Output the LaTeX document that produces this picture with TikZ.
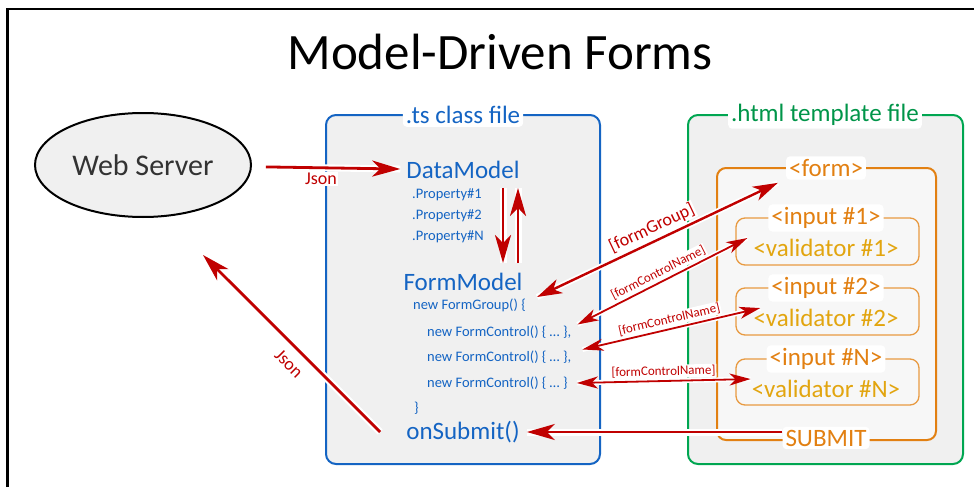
\documentclass[tikz,border=0pt]{standalone}
\usepackage{fontspec}
\setmainfont{Carlito}
\usetikzlibrary{arrows.meta,shapes.geometric}
\definecolor{tsblue}{RGB}{20,100,195}
\definecolor{htmlgreen}{RGB}{0,166,81}
\definecolor{formorange}{RGB}{226,128,18}
\definecolor{valgold}{RGB}{226,165,15}
\definecolor{flowred}{RGB}{192,0,0}
\definecolor{boxgray}{RGB}{240,240,240}
\definecolor{formgray}{RGB}{247,247,247}
\begin{document}
\begin{tikzpicture}[x=1pt,y=-1pt,every node/.style={font=\fontsize{25}{28}\selectfont,inner sep=1pt},
    small/.style={font=\fontsize{14.5}{16}\selectfont,text=tsblue,anchor=west},
    tag/.style={fill=white,rounded corners=4pt,inner sep=3pt},
    lbl/.style={text=flowred,fill=white,inner sep=1pt,font=\fontsize{13}{15}\selectfont},
    flow/.style={flowred,line width=2.8pt,-{Stealth[length=28pt,width=16pt,inset=8pt]},
        preaction={draw=white,line width=7pt,arrows=-}},
    dflow/.style={flowred,line width=2.4pt,
        {Stealth[length=25pt,width=15pt,inset=7pt]}-{Stealth[length=25pt,width=15pt,inset=7pt]},
        preaction={draw=white,line width=6pt,arrows=-}},
    cflow/.style={flowred,line width=1.8pt,
        {Stealth[length=21pt,width=12pt,inset=6pt]}-{Stealth[length=21pt,width=12pt,inset=6pt]},
        preaction={draw=white,line width=5pt,arrows=-}}]
    \useasboundingbox (0,0) rectangle (974,487);
    \draw[line width=2.5pt] (7.5,487) -- (7.5,9) -- (974,9);
    \node (title) at (500,52) {\fontsize{51}{60}\selectfont Model-Driven Forms};
    \node[ellipse,draw,line width=2pt,fill=boxgray,minimum width=216pt,minimum height=104pt,
        text=black!80,font=\fontsize{30}{36}\selectfont] (web) at (143,165) {Web Server};
    % the two files
    \draw[tsblue,line width=2pt,fill=boxgray,rounded corners=10pt] (326,115) rectangle (600,464);
    \node[tag,text=tsblue] (tsfile) at (463,115) {.ts class file};
    \draw[htmlgreen,line width=2pt,fill=boxgray,rounded corners=10pt] (688,115) rectangle (963,464);
    \node[tag,text=htmlgreen!90!black] (htmlfile) at (825,115) {.html template file};
    \draw[formorange,line width=2pt,fill=formgray,rounded corners=9pt] (717,168) rectangle (936,440);
    \node[tag,text=formorange] (form) at (826,168) {<form>};
    \foreach \t/\b/\k in {218/265/1,288/335/2,359/405/N} {
        \draw[formorange!80,line width=1.3pt,rounded corners=9pt] (736,\t) rectangle (919,\b);
        \node[tag,text=formorange] (in\k) at (826,\t) {<input \#\k>};
        \node[text=valgold] (val\k) at (826,\t+30) {<validator \#\k>};
    }
    \node[tag,text=formorange] (submit) at (826,438) {SUBMIT};
    % contents of the class
    \node[text=tsblue] (data) at (463,170) {DataModel};
    \foreach \y/\k in {195/1,216/2,237/N}
        \node[small] (prop\k) at (411,\y) {.Property\#\k};
    \node[text=tsblue] (formmodel) at (463,282) {FormModel};
    \node[small] (fgroup) at (412,305) {new FormGroup() \{};
    \node[small] (fc1) at (426,332) {new FormControl() \{ \dots\ \},};
    \node[small] (fc2) at (426,357) {new FormControl() \{ \dots\ \},};
    \node[small] (fc3) at (426,383) {new FormControl() \{ \dots\ \}};
    \node[small] (close) at (413,408) {\}};
    \node[text=tsblue] (onsubmit) at (463,432) {onSubmit()};
    % data flow
    \draw[flow,shorten <=14pt,shorten >=5pt] (web) -- (data)
        node[pos=.45,below=3pt,lbl,font=\fontsize{18}{20}\selectfont] (json1) {Json};
    \draw[flow,shorten <=8pt,shorten >=9pt] ([xshift=40pt]data.south) -- ([xshift=40pt]formmodel.north);
    \draw[flow,shorten <=9pt,shorten >=8pt] ([xshift=55pt]formmodel.north) -- ([xshift=55pt]data.south);
    \coordinate (back) at (203,255);
    \draw[flow] ([xshift=-25pt]onsubmit.west) -- (back)
        node[pos=.45,sloped,below=8pt,lbl,font=\fontsize{18}{20}\selectfont] (json2) {Json};
    \draw[flow,shorten >=6pt] (submit.west |- onsubmit.east) -- (onsubmit.east);
    \draw[dflow] ([shift={(10pt,8pt)}]fgroup.east) -- ([xshift=-8pt,yshift=-3pt]form.south west)
        node[midway,sloped,above=3pt,lbl,font=\fontsize{18}{20}\selectfont] {[formGroup]};
    \draw[cflow] ([xshift=5pt]fc1.north east) -- ([xshift=-5pt]val1.north west)
        node[midway,sloped,above=2pt,lbl] {[formControlName]};
    \draw[cflow] ([xshift=10pt]fc2.north east) -- ([xshift=8pt]val2.north west)
        node[midway,sloped,above=2pt,lbl] {[formControlName]};
    \draw[cflow] ([xshift=8pt]fc3.east) -- (valN.north west)
        node[midway,sloped,above=2pt,lbl] {[formControlName]};
\end{tikzpicture}
\end{document}
